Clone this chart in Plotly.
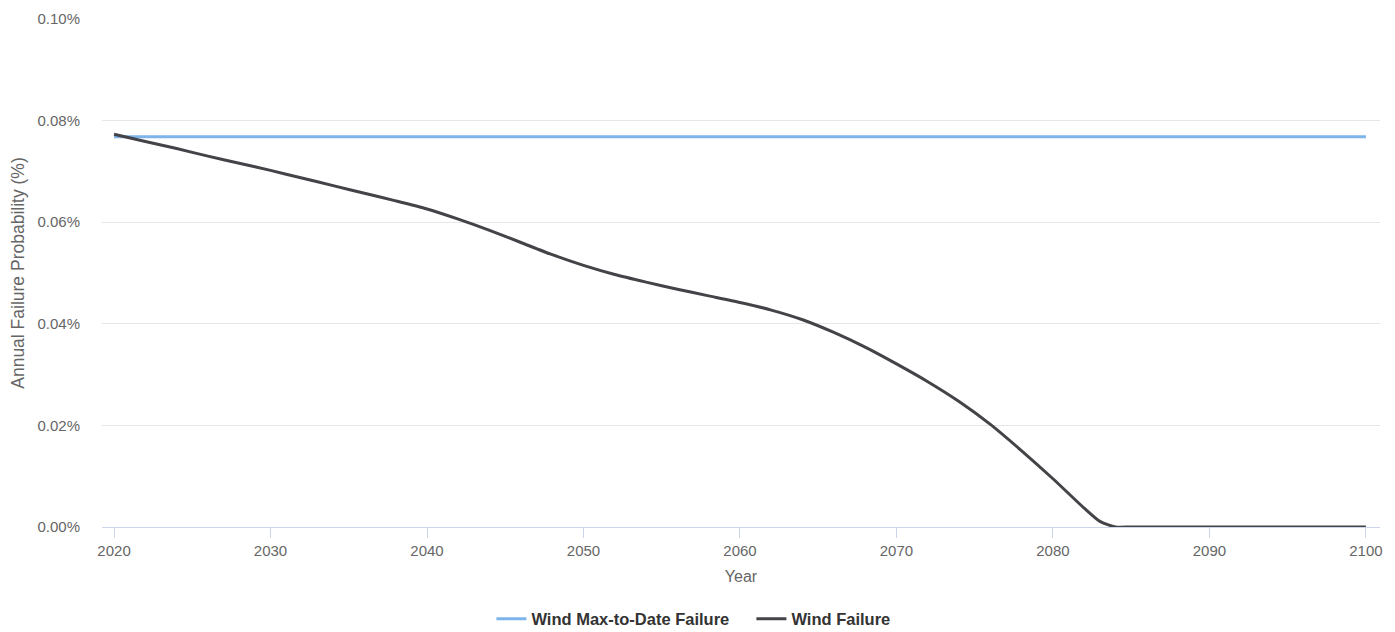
import plotly.graph_objects as go

# Data (annual failure probability, %)
max_years = [2020, 2100]
max_values = [0.0768, 0.0768]

fail_years = [2020, 2022, 2024, 2026, 2028, 2030, 2032, 2034, 2036, 2038, 2040,
              2042, 2044, 2046, 2048, 2050, 2052, 2054, 2056, 2058, 2060, 2062,
              2064, 2066, 2068, 2070, 2072, 2074, 2076, 2078, 2080, 2082, 2083,
              2084, 2085, 2090, 2100]
fail_values = [0.0773, 0.0759, 0.0745, 0.0730, 0.0716, 0.0702, 0.0687, 0.0672,
               0.0657, 0.0642, 0.0626, 0.0606, 0.0584, 0.0560, 0.0536, 0.0515,
               0.0497, 0.0482, 0.0468, 0.0455, 0.0442, 0.0427, 0.0408, 0.0383,
               0.0354, 0.0321, 0.0286, 0.0247, 0.0202, 0.0150, 0.0095, 0.0037,
               0.0011, 0.0, 0.0, 0.0, 0.0]

x_ticks = [2020, 2030, 2040, 2050, 2060, 2070, 2080, 2090, 2100]
y_ticks = [0.0, 0.02, 0.04, 0.06, 0.08, 0.10]
y_tick_text = ["0.00%", "0.02%", "0.04%", "0.06%", "0.08%", "0.10%"]

FONT = "Liberation Sans, Arial, sans-serif"

fig = go.Figure()
fig.add_trace(go.Scatter(
    x=max_years, y=max_values, mode="lines", name="Wind Max-to-Date Failure",
    line=dict(color="#7cb5ec", width=3)))
fig.add_trace(go.Scatter(
    x=fail_years, y=fail_values, mode="lines", name="Wind Failure",
    line=dict(color="#434348", width=3, shape="spline", smoothing=0.6)))

fig.update_layout(
    width=1395, height=632,
    margin=dict(l=94, r=23, t=11, b=113, autoexpand=False),
    paper_bgcolor="white", plot_bgcolor="white",
    font=dict(family=FONT, color="#666666", size=15),
    showlegend=True,
    legend=dict(orientation="h", x=0.3047, xanchor="left", y=-0.181,
                yanchor="middle", entrywidth=215, entrywidthmode="pixels",
                font=dict(family=FONT, size=16.5, color="#333333", weight="bold"),
                itemwidth=30),
    xaxis=dict(
        range=[2019.23, 2100.9], tickmode="array", tickvals=x_ticks,
        showgrid=False, zeroline=False, automargin=False,
        showline=True, linecolor="#ccd6eb", linewidth=1,
        ticks="outside", ticklen=10, tickcolor="#ccd6eb", tickwidth=1,
        tickfont=dict(size=15, color="#666666"),
        title=dict(text="Year", font=dict(size=16, color="#666666"), standoff=12),
    ),
    yaxis=dict(
        range=[0, 0.1], tickmode="array", tickvals=y_ticks, ticktext=y_tick_text,
        showgrid=True, gridcolor="#e6e6e6", gridwidth=1, zeroline=False,
        showline=False, ticks="", ticklabelstandoff=21, automargin=False,
        tickfont=dict(size=15, color="#666666"),
        title=dict(text="Annual Failure Probability (%)",
                   font=dict(size=17.5, color="#666666"), standoff=8),
    ),
)

fig.write_html("out.html")
